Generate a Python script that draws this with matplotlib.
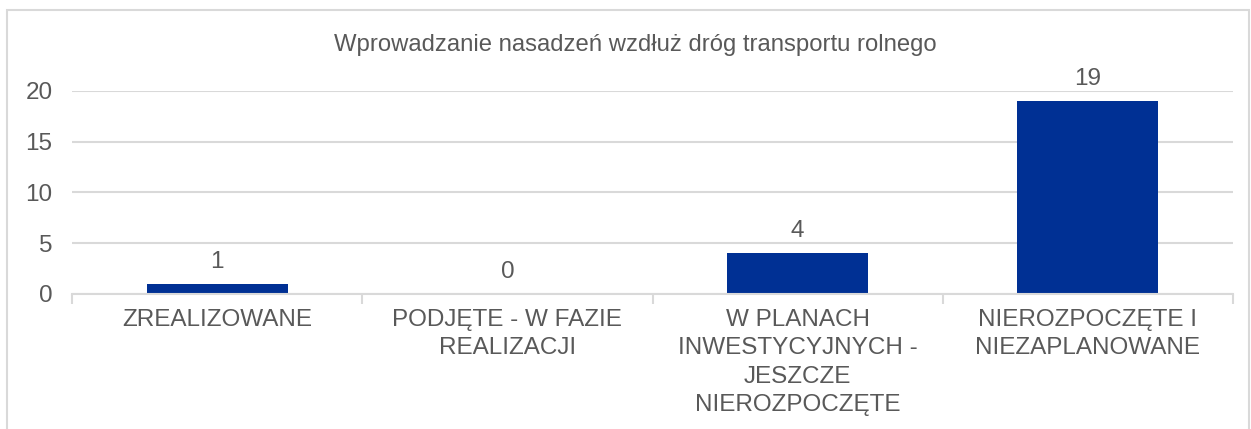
import matplotlib.pyplot as plt
from matplotlib.patches import Rectangle

plt.rcParams["font.family"] = ["Liberation Sans", "DejaVu Sans"]

TITLE = "Wprowadzanie nasadzeń wzdłuż dróg transportu rolnego"
categories = [
    "ZREALIZOWANE",
    "PODJĘTE - W FAZIE\nREALIZACJI",
    "W PLANACH\nINWESTYCYJNYCH -\nJESZCZE\nNIEROZPOCZĘTE",
    "NIEROZPOCZĘTE I\nNIEZAPLANOWANE",
]
values = [1, 0, 4, 19]
y_ticks = [0, 5, 10, 15, 20]

BAR_COLOR = "#003094"
TEXT_COLOR = "#595959"
GRID_COLOR = "#d9d9d9"
FS = 17.5

W, H = 1251, 429
fig = plt.figure(figsize=(W / 100, H / 100), dpi=100)
ax = fig.add_axes([72 / W, 1 - 294 / H, (1233 - 72) / W, (294 - 90.7) / H])

x = list(range(len(categories)))
bars = ax.bar(x, values, width=0.485, color=BAR_COLOR, zorder=3)

for rect, v in zip(bars, values):
    ax.annotate(str(v), (rect.get_x() + rect.get_width() / 2, rect.get_height()),
                xytext=(0, 8), textcoords="offset points",
                ha="center", va="bottom", fontsize=FS, color=TEXT_COLOR)

ax.set_xlim(-0.5, len(categories) - 0.5)
ax.set_ylim(0, 20)
ax.set_yticks(y_ticks)
ax.yaxis.grid(True, color=GRID_COLOR, linewidth=1.5, zorder=0)
ax.tick_params(axis="y", length=0, pad=14, labelsize=FS, labelcolor=TEXT_COLOR)

ax.set_xticks(x)
ax.set_xticklabels(categories, fontsize=FS, color=TEXT_COLOR, linespacing=1.36)
ax.set_xticks([i - 0.5 for i in range(len(categories) + 1)], minor=True)
ax.tick_params(axis="x", which="major", length=0, pad=11)
ax.tick_params(axis="x", which="minor", length=7, width=1.5, color=GRID_COLOR)

for side in ("top", "right", "left"):
    ax.spines[side].set_visible(False)
ax.spines["bottom"].set_color(GRID_COLOR)
ax.spines["bottom"].set_linewidth(1.5)
ax.spines["bottom"].set_zorder(4)

fig.text(0.5077, 1 - 45 / H, TITLE, ha="center", va="center",
         fontsize=17.2, color=TEXT_COLOR)

# light frame around the chart area
fig.patches.append(Rectangle((7 / W, -0.1), (1249 - 7) / W, 1.1 - 10 / H,
                             transform=fig.transFigure, fill=False,
                             edgecolor=GRID_COLOR, linewidth=1.5))

fig.savefig("out.png", dpi=100, facecolor="white")
